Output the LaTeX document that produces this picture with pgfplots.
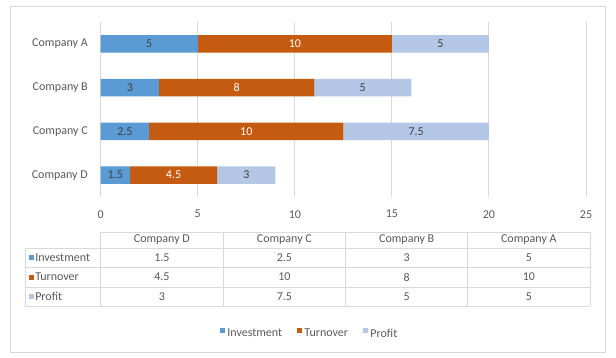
\documentclass[border=0pt]{standalone}
\usepackage{fontspec}
\setmainfont{Carlito}
\usepackage{pgfplots}
\usepackage{pgfplotstable}
\pgfplotsset{compat=1.18}
\definecolor{inv}{HTML}{5B9BD5}
\definecolor{tur}{HTML}{C55A11}
\definecolor{pro}{HTML}{B4C7E7}
\definecolor{txt}{HTML}{595959}
\definecolor{grd}{HTML}{D9D9D9}
\definecolor{lbl}{HTML}{404040}

% pos 0 = Company D (bottom) ... 3 = Company A (top)
\pgfplotstableread{
pos inv tur pro
0 1.5 4.5 3
1 2.5 10 7.5
2 3 8 5
3 5 10 5
}\data

\pgfplotsset{base/.style={
  at={(75.525pt,120pt)}, anchor=south west,
  width=364pt, height=131.25pt, scale only axis,
  xmin=0, xmax=25, ymin=-0.5, ymax=3.5,
}}

\begin{document}
\fontsize{9}{11}\selectfont
\begin{tikzpicture}
\begin{scope}[x=0.75pt,y=-0.75pt,yshift=267.75pt]
\path (0,0) rectangle (616,357);
\draw[grd, line width=0.75pt] (10,7) rectangle (605,352);
\end{scope}

\begin{axis}[base, xbar stacked, bar width=13.1pt,
  axis line style={draw=none}, tick style={draw=none},
  xtick={0,5,...,25}, ytick={0,1,2,3},
  yticklabels={Company D, Company C, Company B, Company A},
  xmajorgrids, major grid style={grd, line width=0.75pt},
  ticklabel style={text=txt, font=\fontsize{9}{11}\selectfont},
  xticklabel style={yshift=-6.75pt},
  yticklabel style={xshift=-6.5pt},
  /pgf/number format/assume math mode=true,
  legend columns=3,
  legend image code/.code={\fill[#1] (0pt,0.7pt) rectangle (3.75pt,4.5pt);},
  legend style={at={(0.431,-0.783)}, anchor=center, draw=none, fill=none,
    font=\fontsize{9}{11}\selectfont, text=txt, inner sep=0pt,
    /tikz/every even column/.append style={column sep=9pt},
    cells={anchor=west}},
]
\addplot[fill=inv, draw=none] table[x=inv, y=pos]{\data};
\addlegendentry{Investment}
\addplot[fill=tur, draw=none] table[x=tur, y=pos]{\data};
\addlegendentry{Turnover}
\addplot[fill=pro, draw=none] table[x=pro, y=pos]{\data};
\addlegendentry{Profit}
\end{axis}

\begin{axis}[base, hide axis, clip=false,
  /pgf/number format/assume math mode=true,
  nodes near coords, point meta=explicit,
  every node near coord/.append style={anchor=center, font=\fontsize{9}{11}\selectfont},
]
\addplot[draw=none, mark=none, nodes near coords style={text=lbl}]
  table[x expr=\thisrow{inv}/2, y=pos, meta=inv]{\data};
\addplot[draw=none, mark=none, nodes near coords style={text=white}]
  table[x expr=\thisrow{inv}+\thisrow{tur}/2, y=pos, meta=tur]{\data};
\addplot[draw=none, mark=none, nodes near coords style={text=lbl}]
  table[x expr=\thisrow{inv}+\thisrow{tur}+\thisrow{pro}/2, y=pos, meta=pro]{\data};
\end{axis}

\begin{scope}[x=0.75pt,y=-0.75pt,yshift=267.75pt]
% data table grid
\draw[grd, line width=0.75pt] (100.7,232) -- (590,232);
\foreach \yy in {248,267,287,306} \draw[grd, line width=0.75pt] (25,\yy) -- (590,\yy);
\draw[grd, line width=0.75pt] (25,248) -- (25,306);
\foreach \xx in {100.7,223,345.7,467.7,590} \draw[grd, line width=0.75pt] (\xx,232) -- (\xx,306);
% header
\foreach \xx/\t in {161.85/Company D, 284.35/Company C, 406.7/Company B, 528.85/Company A}
  \node[text=txt, inner sep=0pt] at (\xx,240) {\t};
% rows
\foreach \yy/\c/\t in {257.5/inv/Investment, 277/tur/Turnover, 296.5/pro/Profit}{
  \fill[\c] (28.5,\yy-2.5) rectangle (33.5,\yy+2.5);
  \node[text=txt, inner sep=0pt, anchor=west] at (35,\yy) {\t};
}
\foreach \xx/\a/\b/\c in {161.85/1.5/4.5/3, 284.35/2.5/10/7.5, 406.7/3/8/5, 528.85/5/10/5}{
  \node[text=txt, inner sep=0pt] at (\xx,257.5) {\a};
  \node[text=txt, inner sep=0pt] at (\xx,277) {\b};
  \node[text=txt, inner sep=0pt] at (\xx,296.5) {\c};
}
\end{scope}
\end{tikzpicture}
\end{document}
